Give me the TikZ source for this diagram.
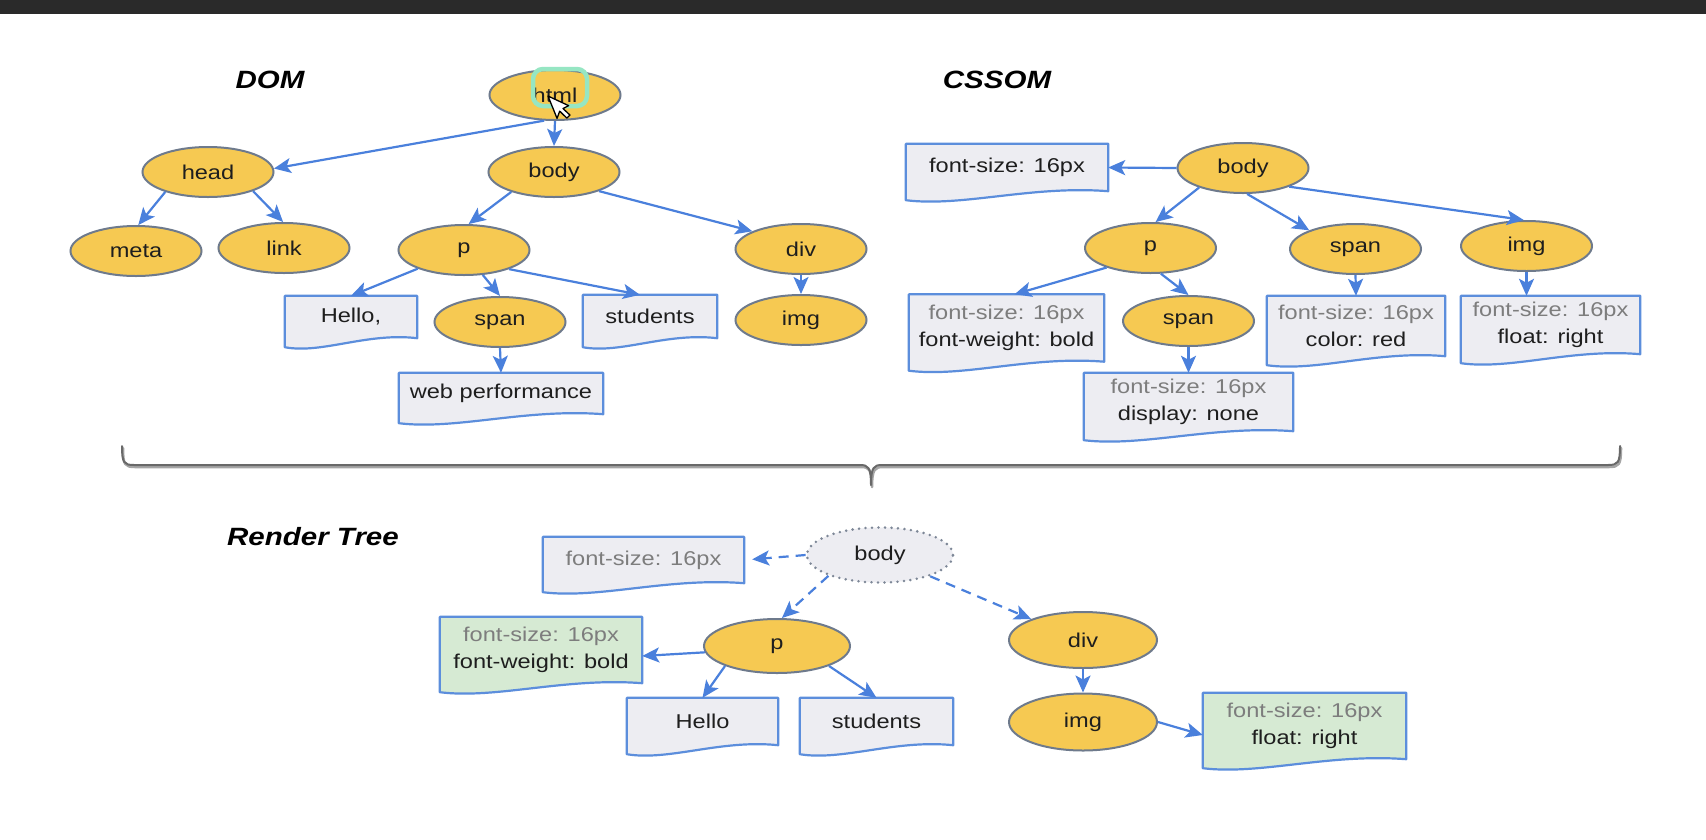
\documentclass[tikz,border=0pt]{standalone}
\usepackage{fontspec}
\setmainfont{Liberation Sans}[FakeStretch=1.18]
\usetikzlibrary{shapes.geometric,arrows.meta,calc,backgrounds}

\definecolor{nodefill}{RGB}{246,201,82}
\definecolor{nodeline}{RGB}{110,122,140}
\definecolor{boxfill}{RGB}{237,237,242}
\definecolor{boxline}{RGB}{92,142,220}
\definecolor{greenfill}{RGB}{214,234,211}
\definecolor{arrowblue}{RGB}{74,128,220}
\definecolor{mutedtext}{RGB}{125,125,125}
\definecolor{inktext}{RGB}{30,30,30}
\definecolor{barcolor}{RGB}{42,42,42}
\definecolor{bracecolor}{RGB}{105,105,105}
\definecolor{highlight}{RGB}{150,230,195}

\newcommand{\muted}[1]{\textcolor{mutedtext}{#1}}
% rectangle with a wavy lower edge, drawn behind a named node
\newcommand{\docshape}[2]{%
  \draw[draw=boxline, line width=2.2pt, fill=#2, line join=round]
    (#1.north west) -- (#1.north east) -- (#1.south east)
    .. controls ($(#1.south west)!0.62!(#1.south east)+(0,-6)$)
    and ($(#1.south west)!0.28!(#1.south east)+(0,16)$)
    .. ($(#1.south west)+(0,9)$) -- cycle;}

\tikzset{
  elem/.style={ellipse, draw=nodeline, line width=2pt, fill=nodefill,
    minimum width=131pt, minimum height=50pt, inner sep=0pt,
    text=inktext, font=\fontsize{20}{24}\selectfont},
  ghost/.style={elem, fill=boxfill, draw=nodeline!90,
    line width=2.8pt, dash pattern=on 0pt off 6.5pt, line cap=round},
  textbox/.style={rectangle, inner sep=0pt, align=center, text=inktext,
    font=\fontsize{20}{27}\selectfont},
  heading/.style={font=\fontsize{25}{30}\selectfont\bfseries\itshape, text=black},
  arr/.style={draw=arrowblue, line width=2.2pt,
    -{Stealth[length=17pt,width=15pt,inset=4pt]}},
  darr/.style={arr, dash pattern=on 10pt off 7pt},
}

\begin{document}
\begin{tikzpicture}[x=1pt, y=-1pt]
\useasboundingbox (0,0) rectangle (1706,839);
\fill[barcolor] (0,0) rectangle (1706,14);

% ---------- DOM ----------
\node[heading] (domtitle) at (270,80) {DOM};
\node[elem] (html) at (555,95) {html};
\node[elem] (head) at (208,172) {head};
\node[elem] (body) at (554,172) {body};
\node[elem] (meta) at (136,251) {meta};
\node[elem] (link) at (284,248) {link};
\node[elem] (p) at (464,250) {p};
\node[elem] (div) at (801,249) {div};
\node[elem] (span) at (500,322) {span};
\node[elem] (img) at (801,320) {img};
\node[textbox, minimum width=132pt, minimum height=42pt] (hello) at (351,317) {Hello,};
\node[textbox, minimum width=134pt, minimum height=43pt] (students) at (650,316.5) {students};
\node[textbox, minimum width=204pt, minimum height=41pt] (web) at (501,393.5) {web performance};

% pointer highlight over the root element
\draw[highlight, line width=4.5pt, rounded corners=10pt] (533,69) rectangle (587,106);
\begin{scope}[shift={(548,96)}, rotate=22, scale=1.15]
  \draw[fill=white, draw=black, line width=1.3pt, line join=round]
    (0,0) -- (0,21) -- (4.5,16) -- (8,24) -- (11.5,22.5) -- (8,15) -- (13.5,14.5) -- cycle;
\end{scope}

\draw[arr] (html.247) -- (head.3);
\draw[arr] (html.south) -- (body.north);
\draw[arr] (head.205) -- (meta.85);
\draw[arr] (head.337) -- (link.92);
\draw[arr] (body.205) -- (p.80);
\draw[arr] (body.337) -- (div.160);
\draw[arr] (p.202) -- (hello.north);
\draw[arr] (p.307) -- (span.north);
\draw[arr] (p.337) -- ($(students.north)+(-10,0)$);
\draw[arr] (span.south) -- (web.north);
\draw[arr] (div.south) -- (img.north);

% ---------- CSSOM ----------
\node[heading] (cssomtitle) at (997,80) {CSSOM};
\node[textbox, minimum width=202pt, minimum height=47pt] (cfs) at (1007,167.5) {font-size: 16px};
\node[elem] (cbody) at (1243,168) {body};
\node[elem] (cp) at (1150.5,248) {p};
\node[elem] (cspan) at (1355.5,249) {span};
\node[elem] (cimg) at (1526.5,246) {img};
\node[elem] (cspanb) at (1188.5,321) {span};
\node[textbox, minimum width=195pt, minimum height=67pt] (cpbox) at (1006.5,328)
  {\muted{font-size: 16px}\\font-weight: bold};
\node[textbox, minimum width=209pt, minimum height=58pt] (cdisp) at (1188.5,402)
  {\muted{font-size: 16px}\\display: none};
\node[textbox, minimum width=178pt, minimum height=60pt] (ccolor) at (1356,326)
  {\muted{font-size: 16px}\\color: red};
\node[textbox, minimum width=179pt, minimum height=58pt] (cfloat) at (1550.5,325)
  {\muted{font-size: 16px}\\float: right};

\draw[arr] (cbody.west) -- (cfs.east);
\draw[arr] (cbody.204) -- (cp.79);
\draw[arr] (cbody.279) -- (cspan.158);
\draw[arr] (cbody.338) -- (cimg.96);
\draw[arr] (cp.204) -- ($(cpbox.north)+(8,0)$);
\draw[arr] (cp.292) -- (cspanb.north);
\draw[arr] (cspanb.south) -- (cdisp.north);
\draw[arr] (cspan.south) -- (ccolor.north);
\draw[arr] (cimg.south) -- (cimg.south |- cfloat.north);

% ---------- brace joining both trees ----------
\draw[bracecolor!60, line width=2.5pt, line cap=round, line join=round]
  (123,448) .. controls (123,465) and (125,467) .. (135,467) -- (861,467)
  .. controls (869,467) and (872,469) .. (872,487)
  .. controls (872,469) and (875,467) .. (883,467) -- (1609,467)
  .. controls (1619,467) and (1621,465) .. (1621,448);
\draw[bracecolor, line width=2pt, line cap=round, line join=round]
  (122,446) .. controls (122,463) and (124,465) .. (134,465) -- (860,465)
  .. controls (868,465) and (871,467) .. (871,485)
  .. controls (871,467) and (874,465) .. (882,465) -- (1608,465)
  .. controls (1618,465) and (1620,463) .. (1620,446);

% ---------- Render Tree ----------
\node[heading] (rtitle) at (313,537) {Render Tree};
\node[textbox, minimum width=201pt, minimum height=46pt, text=mutedtext] (rfs) at (643.5,560) {font-size: 16px};
\node[ghost, minimum width=146pt, minimum height=55pt] (rbody) at (880,555) {};
\node[textbox] (rbodylabel) at (rbody.center) {body};
\node[elem, minimum width=146pt, minimum height=54pt] (rp) at (777,646) {p};
\node[textbox, minimum width=202pt, minimum height=66pt] (rpbox) at (541,650)
  {\muted{font-size: 16px}\\font-weight: bold};
\node[textbox, minimum width=151pt, minimum height=47pt] (rhello) at (702.5,721.5) {Hello};
\node[textbox, minimum width=153pt, minimum height=47pt] (rstud) at (876.5,721.5) {students};
\node[elem, minimum width=148pt, minimum height=56pt] (rdiv) at (1083,640) {div};
\node[elem, minimum width=148pt, minimum height=57pt] (rimg) at (1083,722) {img};
\node[textbox, minimum width=203pt, minimum height=66pt] (rfloat) at (1304.5,726)
  {\muted{font-size: 16px}\\float: right};

\draw[darr, shorten >=8pt] (rbody.west) -- (rfs.east);
\draw[darr] (rbody.202) -- (rp.80);
\draw[darr] (rbody.337) -- (rdiv.158);
\draw[arr] (rp.185) -- ($(rpbox.east)+(0,6)$);
\draw[arr] (rp.201) -- (rhello.north);
\draw[arr] (rp.339) -- (rstud.north);
\draw[arr] (rdiv.south) -- (rimg.north);
\draw[arr] (rimg.east) -- ($(rfloat.west)+(0,9)$);

% ---------- page background and wavy text boxes, behind the labels ----------
\begin{scope}[on background layer]
  \fill[white] (0,14) rectangle (1706,839);
  \docshape{hello}{boxfill}
  \docshape{students}{boxfill}
  \docshape{web}{boxfill}
  \docshape{cfs}{boxfill}
  \docshape{cpbox}{boxfill}
  \docshape{cdisp}{boxfill}
  \docshape{ccolor}{boxfill}
  \docshape{cfloat}{boxfill}
  \docshape{rfs}{boxfill}
  \docshape{rpbox}{greenfill}
  \docshape{rhello}{boxfill}
  \docshape{rstud}{boxfill}
  \docshape{rfloat}{greenfill}
\end{scope}
\end{tikzpicture}
\end{document}
